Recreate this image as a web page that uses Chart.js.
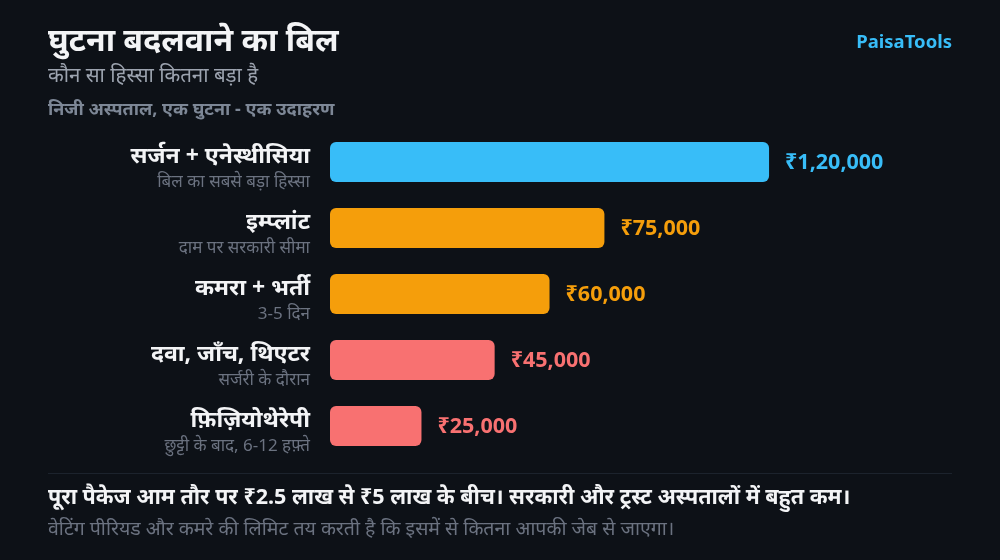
<!DOCTYPE html>
<html>
<head>
<meta charset="utf-8">
<script src="https://cdn.jsdelivr.net/npm/chart.js@4"></script>
<style>
  html, body { margin: 0; padding: 0; background: #0d1117; }
  #wrap { width: 1000px; height: 560px; position: relative; }
</style>
</head>
<body>
<div id="wrap"><canvas id="kneeChart" width="1000" height="560"></canvas></div>
<script>
// data
const categories = ['सर्जन + एनेस्थीसिया', 'इम्प्लांट', 'कमरा + भर्ती', 'दवा, जाँच, थिएटर', 'फ़िज़ियोथेरेपी'];
const subLabels = ['बिल का सबसे बड़ा हिस्सा', 'दाम पर सरकारी सीमा', '3-5 दिन', 'सर्जरी के दौरान', 'छुट्टी के बाद, 6-12 हफ़्ते'];
const costs = [120000, 75000, 60000, 45000, 25000];
const axisMax = 170000;

const barColors = ['#38bdf8', '#f59e0b', '#f59e0b', '#f87171', '#f87171'];
const FONT = '"Noto Sans", "Open Sans", sans-serif';

const fmt = v => '₹' + v.toLocaleString('en-IN');

// titles, side labels, value labels, footer
const textPlugin = {
    id: 'texts',
    afterDatasetsDraw(chart) {
        const { ctx, scales } = chart;
        const meta = chart.getDatasetMeta(0);
        ctx.save();
        ctx.textBaseline = 'middle';

        // header
        ctx.textAlign = 'left';
        ctx.fillStyle = '#f3f4f6';
        ctx.font = 'bold 32px ' + FONT;
        ctx.fillText('घुटना बदलवाने का बिल', 48, 42);
        ctx.fillStyle = '#9ca3af';
        ctx.font = '20.5px ' + FONT;
        ctx.fillText('कौन सा हिस्सा कितना बड़ा है', 48, 76);
        ctx.fillStyle = '#7d8796';
        ctx.font = 'bold 18px ' + FONT;
        ctx.fillText('निजी अस्पताल, एक घुटना - एक उदाहरण', 48, 110);

        ctx.textAlign = 'right';
        ctx.fillStyle = '#38bdf8';
        ctx.font = 'bold 18.5px ' + FONT;
        ctx.fillText('PaisaTools', 952, 43);

        // category labels + values
        categories.forEach((name, i) => {
            const y = scales.y.getPixelForValue(i);
            ctx.textAlign = 'right';
            ctx.fillStyle = '#f3f4f6';
            ctx.font = 'bold 23px ' + FONT;
            ctx.fillText(name, 310, y - 6);
            ctx.fillStyle = '#6b7280';
            ctx.font = '17px ' + FONT;
            ctx.fillText(subLabels[i], 310, y + 20);

            const bar = meta.data[i];
            ctx.textAlign = 'left';
            ctx.fillStyle = barColors[i];
            ctx.font = 'bold 21.5px ' + FONT;
            ctx.fillText(fmt(costs[i]), bar.x + 16, y + 1);
        });

        // footer
        ctx.strokeStyle = '#1c232d';
        ctx.lineWidth = 1;
        ctx.beginPath();
        ctx.moveTo(48, 473.5);
        ctx.lineTo(952, 473.5);
        ctx.stroke();

        ctx.textAlign = 'left';
        ctx.fillStyle = '#f3f4f6';
        ctx.font = 'bold 21.5px ' + FONT;
        ctx.fillText('पूरा पैकेज आम तौर पर ₹2.5 लाख से ₹5 लाख के बीच। सरकारी और ट्रस्ट अस्पतालों में बहुत कम।', 48, 498);
        ctx.fillStyle = '#6b7280';
        ctx.font = '19.5px ' + FONT;
        ctx.fillText('वेटिंग पीरियड और कमरे की लिमिट तय करती है कि इसमें से कितना आपकी जेब से जाएगा।', 48, 529);
        ctx.restore();
    }
};

new Chart(document.getElementById('kneeChart'), {
    type: 'bar',
    data: {
        labels: categories,
        datasets: [{
            data: costs,
            backgroundColor: barColors,
            borderRadius: 6,
            borderSkipped: false,
            categoryPercentage: 1,
            barPercentage: 40 / 66
        }]
    },
    options: {
        indexAxis: 'y',
        responsive: false,
        animation: false,
        layout: { padding: { left: 330, right: 48, top: 129, bottom: 101 } },
        plugins: { legend: { display: false }, tooltip: { enabled: false } },
        scales: {
            x: { min: 0, max: axisMax, display: false },
            y: { display: false }
        }
    },
    plugins: [textPlugin]
});
</script>
</body>
</html>
